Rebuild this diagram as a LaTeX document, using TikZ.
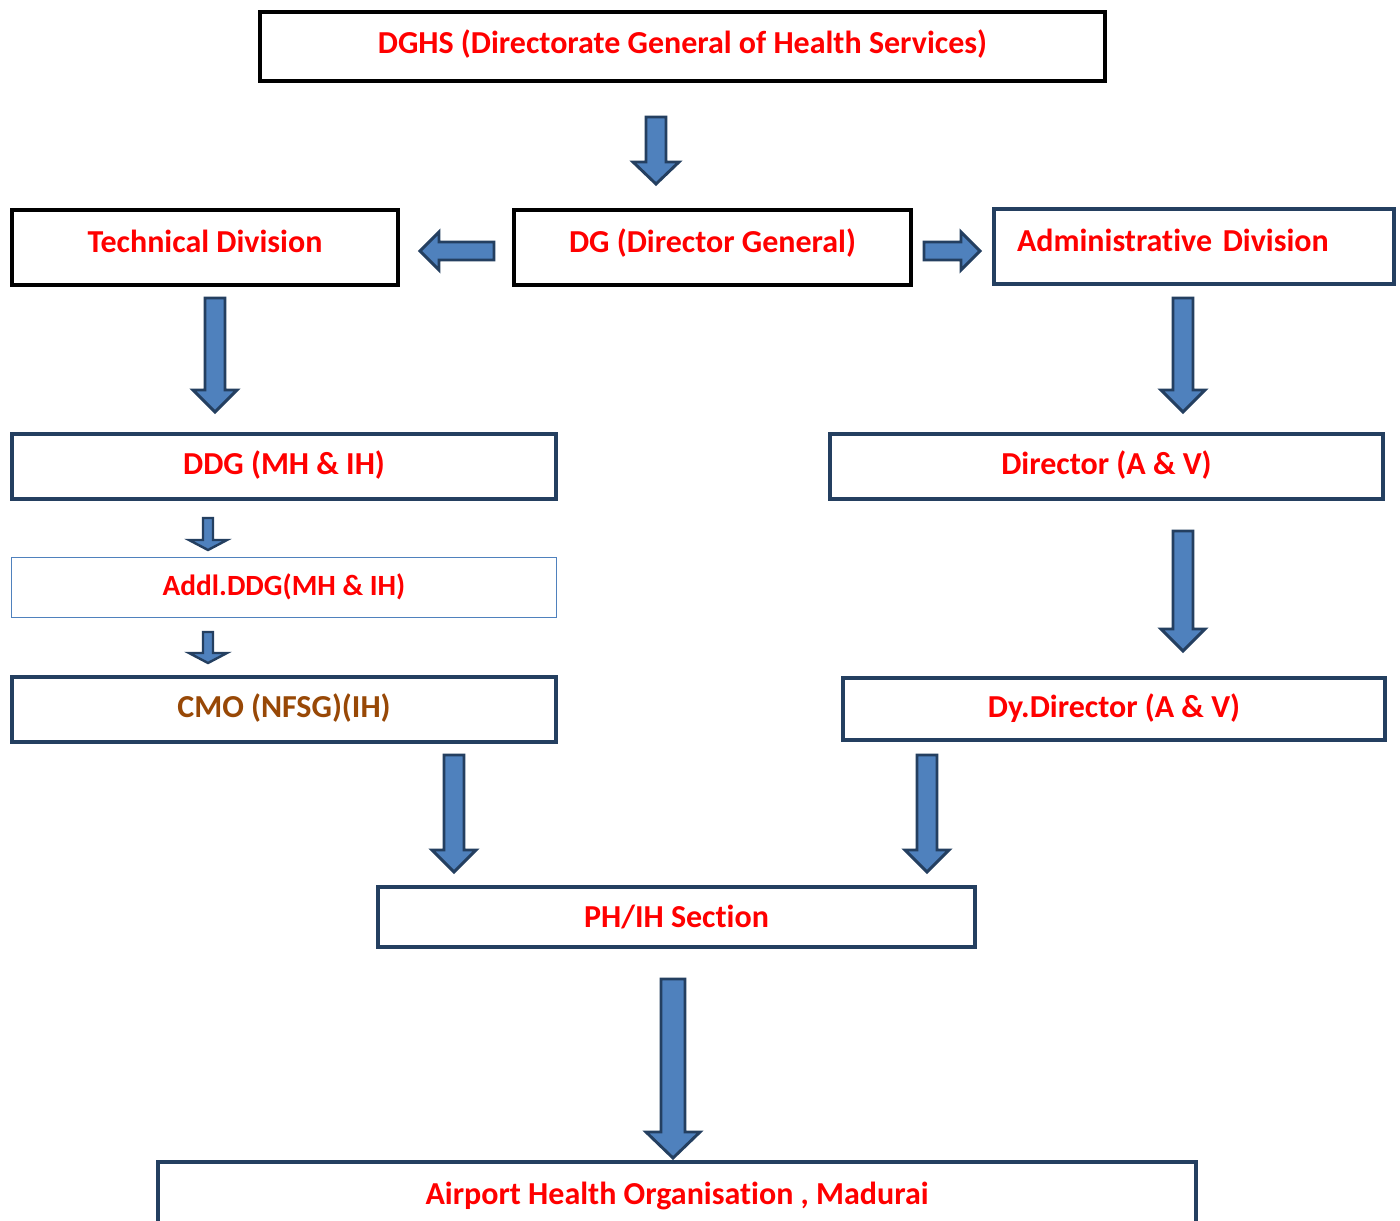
\documentclass[tikz,border=0pt]{standalone}
\usepackage{fontspec}
\setmainfont{Carlito}[Ligatures={NoCommon,NoContextual}]
\usetikzlibrary{calc}
\definecolor{navy}{HTML}{243F60}
\definecolor{afill}{HTML}{4F81BD}
\definecolor{tred}{HTML}{FF0000}
\definecolor{tbrown}{HTML}{984806}
% vertical block arrow: x, y1, y2, shaft half-width, head half-width, head length
\newcommand\varrow[7][2.2pt]{%
  \draw[blockarr, line width=#1] (#2-#5,#3) -- (#2+#5,#3) -- (#2+#5,#4-#7) -- (#2+#6,#4-#7)
    -- (#2,#4) -- (#2-#6,#4-#7) -- (#2-#5,#4-#7) -- cycle;}
% horizontal block arrow: x1 (tail), x2 (tip), y, shaft half-width, head half-width, signed head length
\newcommand\harrow[6]{%
  \draw[blockarr] (#1,#3-#4) -- (#1,#3+#4) -- (#2+#6,#3+#4) -- (#2+#6,#3+#5)
    -- (#2,#3) -- (#2+#6,#3-#5) -- (#2+#6,#3-#4) -- cycle;}
\tikzset{
  blockarr/.style={draw=navy, fill=afill, line width=2.2pt, line join=miter},
  box/.style={draw=navy, line width=2.7pt, fill=white, inner sep=0pt,
    text height=16pt, text depth=4pt,
    font=\fontsize{24}{28}\selectfont\bfseries, text=tred},
  bbox/.style={box, draw=black, line width=3pt},
  raised/.style={text depth=8pt},
}
\begin{document}
\begin{tikzpicture}[x=0.75pt,y=-0.75pt]
\useasboundingbox (0,0) rectangle (1400,1221);
\fill[white] (0,0) rectangle (1400,1221);

% boxes
\node[bbox, minimum width=845*0.75pt, minimum height=69*0.75pt, text depth=6pt] (dghs) at (682.5,46.5)
  {DGHS (Directorate General of Health Services)};
\node[bbox, raised, minimum width=386*0.75pt, minimum height=75*0.75pt] (tech) at (205,247.5)
  {Technical Division};
\node[bbox, raised, minimum width=397*0.75pt, minimum height=75*0.75pt] (dg) at (712.5,247.5)
  {DG (Director General)};
\node[box, raised, minimum width=400*0.75pt, minimum height=75*0.75pt, text width=354*0.75pt,
  align=left] (admin) at (1194,246.5) {Administrative Division};
\node[box, minimum width=544*0.75pt, minimum height=65*0.75pt] (ddg) at (284,466.5)
  {DDG (MH \& IH)};
\node[box, minimum width=553*0.75pt, minimum height=65*0.75pt] (dir) at (1106.5,466.5)
  {Director (A \& V)};
\node[box, draw=afill, line width=1.2pt, font=\fontsize{22}{26}\selectfont\bfseries,
  text height=14pt, text depth=2pt, minimum width=545*0.75pt, minimum height=60*0.75pt]
  (addl) at (284,587.5) {Addl.DDG(MH \& IH)};
\node[box, text=tbrown, minimum width=544*0.75pt, minimum height=65*0.75pt] (cmo) at (284,709.5)
  {CMO (NFSG)(IH)};
\node[box, minimum width=542*0.75pt, minimum height=62*0.75pt] (dy) at (1114,709)
  {Dy.Director (A \& V)};
\node[box, text depth=0pt, minimum width=597*0.75pt, minimum height=60*0.75pt] (ph) at (676.5,917)
  {PH/IH Section};
\node[box, anchor=north, minimum width=1038*0.75pt, minimum height=70*0.75pt] (aho) at (677,1160)
  {Airport Health Organisation , Madurai};

% block arrows
\varrow{656}{117}{184}{10}{23}{22}
\harrow{494}{420}{251}{9}{19}{19}
\harrow{924}{980}{251}{9}{19}{-19}
\varrow{215}{298}{412}{10}{22}{22}
\varrow{1183}{298}{412}{10}{22}{22}
\varrow[1.8pt]{208}{518}{550}{5}{19}{10}
\varrow[1.8pt]{208}{632}{663}{5}{19}{10}
\varrow{1183}{531}{651}{10}{22}{22}
\varrow{454}{755}{872}{10}{22}{22}
\varrow{927}{755}{872}{10}{22}{22}
\varrow{673}{979}{1158}{12}{27}{26}
\end{tikzpicture}
\end{document}
